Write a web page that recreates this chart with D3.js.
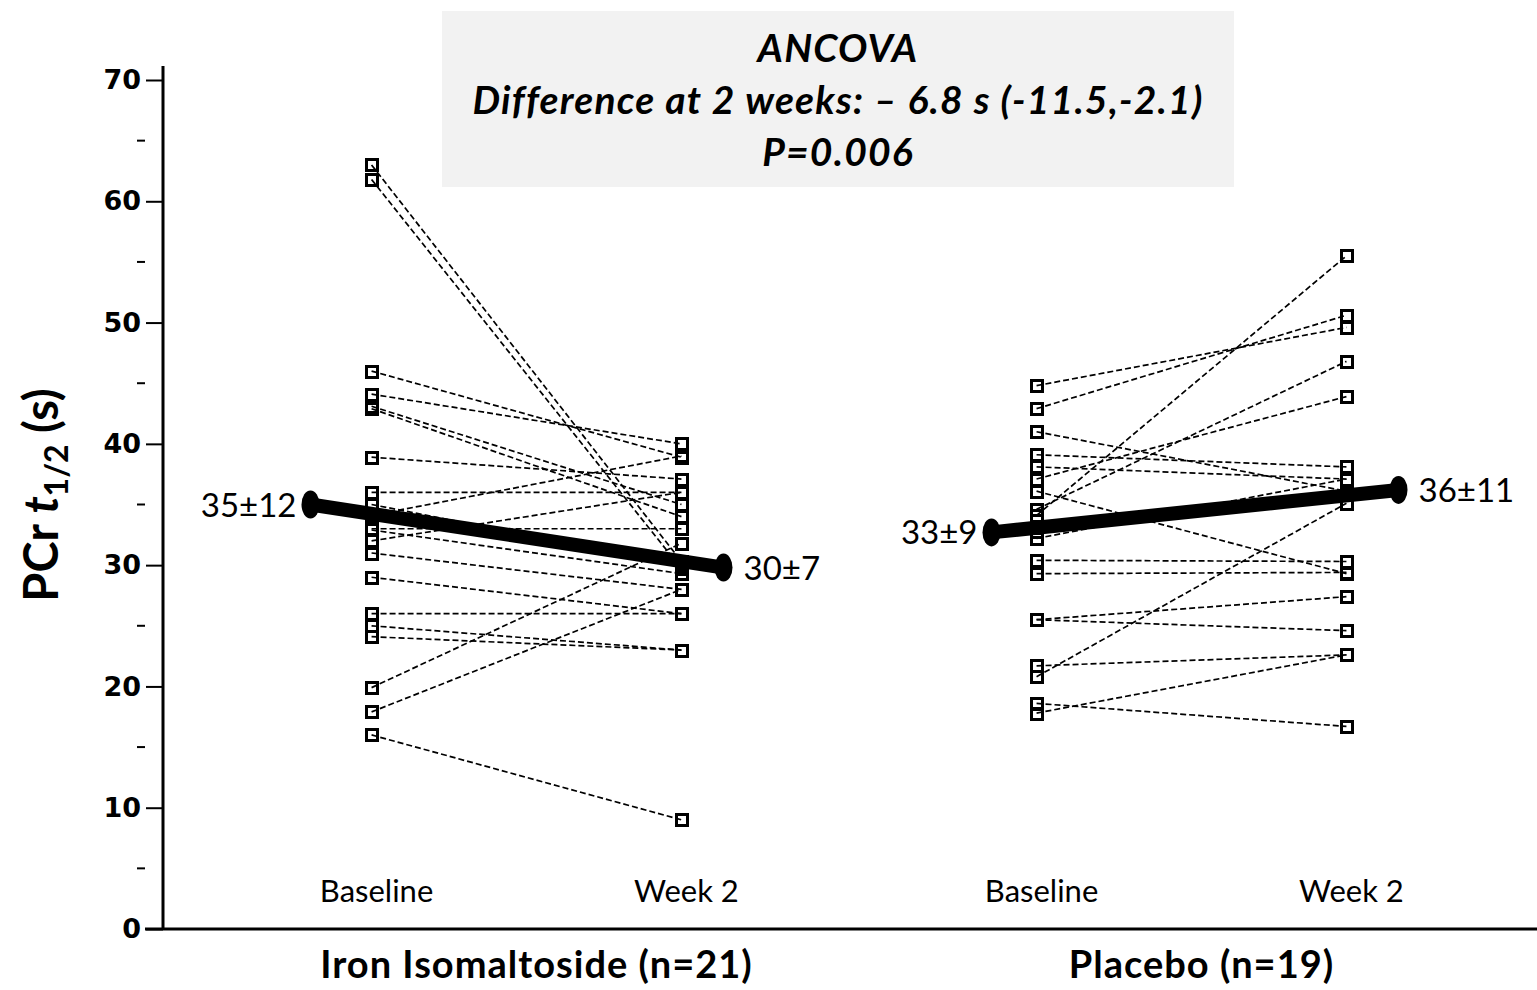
<!DOCTYPE html>
<html>
<head>
<meta charset="utf-8">
<script src="https://cdn.jsdelivr.net/npm/d3@7"></script>
<style>
  body { margin: 0; background: #fff; }
  svg { display: block; }
</style>
</head>
<body>
<div id="chart"></div>
<script>
// values (PCr half-time, seconds)
const groups = ["Iron Isomaltoside (n=21)", "Placebo (n=19)"];
const timepoints = ["Baseline", "Week 2"];

const ironBaseline = [63.0, 61.8, 46.0, 44.1, 43.1, 42.9, 38.9, 36.0, 34.1, 35.0, 33.0, 32.9, 32.0, 31.0, 29.0, 26.0, 25.0, 24.1, 19.9, 17.9, 16.0];
const ironWeek2    = [30.3, 29.7, 38.9, 40.0, 35.0, 34.0, 37.1, 36.0, 39.0, 30.0, 33.0, 29.3, 36.0, 28.0, 26.0, 26.0, 23.0, 23.0, 31.8, 28.0, 9.0];

const placeboBaseline = [44.8, 42.9, 41.0, 39.1, 38.1, 37.1, 36.1, 34.1, 34.6, 32.2, 32.8, 30.4, 29.3, 25.5, 25.5, 21.7, 20.8, 18.6, 17.8];
const placeboWeek2    = [49.6, 50.6, 36.1, 38.1, 37.1, 43.9, 29.3, 55.5, 46.8, 37.1, 35.8, 30.3, 29.4, 27.4, 24.6, 22.6, 35.1, 16.7, 22.6];

const meanValues = [[35.0, 29.8], [32.7, 36.2]];
const meanLabels = [["35±12", "30±7"], ["33±9", "36±11"]];

const yMajorTicks = [0, 10, 20, 30, 40, 50, 60, 70];
const yMinorTicks = [5, 15, 25, 35, 45, 55, 65];

const annotationLines = ["ANCOVA", "Difference at 2 weeks: \u2013 6.8 s (-11.5,-2.1)", "P=0.006"];

class PairedPlot {
  constructor(_config) {
    this.config = {
      parentElement: _config.parentElement,
      containerWidth: 1537,
      containerHeight: 990,
      axisX: 163,
      plotTop: 80,
      plotBottom: 929,
      groupRange: [194, 1524],
      pointPadding: 0.573,
      // where the thick mean line starts/ends, relative to the group centre
      meanEnds: [[-216, 197], [-200, 207]],
      squareSize: 11,
      font: "Lato, 'Open Sans', sans-serif"
    };
    this.series = [
      { baseline: ironBaseline, week2: ironWeek2 },
      { baseline: placeboBaseline, week2: placeboWeek2 }
    ];
    this.initVis();
  }

  initVis() {
    let vis = this;
    vis.svg = d3.select(vis.config.parentElement)
      .append("svg")
      .attr("width", vis.config.containerWidth)
      .attr("height", vis.config.containerHeight);

    vis.yScale = d3.scaleLinear()
      .domain([0, 70])
      .range([vis.config.plotBottom, vis.config.plotTop]);

    vis.groupScale = d3.scaleBand()
      .domain(groups)
      .range(vis.config.groupRange)
      .padding(0);

    vis.timeScale = d3.scalePoint()
      .domain(timepoints)
      .range([0, vis.groupScale.bandwidth()])
      .padding(vis.config.pointPadding);

    vis.drawAnnotation();
    vis.drawAxes();
    vis.updateVis();
  }

  drawAnnotation() {
    let vis = this;
    let g = vis.svg.append("g");
    g.append("rect")
      .attr("x", 442).attr("y", 11)
      .attr("width", 792).attr("height", 176)
      .attr("fill", "#f2f2f2");
    g.selectAll("text")
      .data(annotationLines)
      .join("text")
      .attr("x", 838)
      .attr("y", (d, i) => 62 + i * 52)
      .attr("text-anchor", "middle")
      .style("font-family", vis.config.font)
      .style("font-weight", "bold")
      .style("font-style", "italic")
      .style("font-size", "39px")
      .style("letter-spacing", "1.2px")
      .text(d => d);
  }

  drawAxes() {
    let vis = this;
    let axisG = vis.svg.append("g")
      .attr("transform", `translate(${vis.config.axisX},0)`);

    let yAxis = d3.axisLeft(vis.yScale)
      .tickValues(yMajorTicks)
      .tickSize(17)
      .tickPadding(5)
      .tickFormat(d3.format("d"));

    axisG.call(yAxis);
    axisG.select(".domain").remove();
    axisG.selectAll(".tick line").attr("stroke", "#000").attr("stroke-width", 2);
    axisG.selectAll(".tick text")
      .style("font-family", "'DejaVu Sans', sans-serif")
      .style("font-weight", "bold")
      .style("font-size", "27px")
      .attr("fill", "#000");

    // minor ticks are short detached dashes
    axisG.selectAll(".minor")
      .data(yMinorTicks)
      .join("line")
      .attr("class", "minor")
      .attr("x1", -26).attr("x2", -18)
      .attr("y1", d => vis.yScale(d)).attr("y2", d => vis.yScale(d))
      .attr("stroke", "#000").attr("stroke-width", 2);

    // axis lines
    vis.svg.append("line")
      .attr("x1", vis.config.axisX).attr("x2", vis.config.axisX)
      .attr("y1", 66).attr("y2", vis.config.plotBottom + 1)
      .attr("stroke", "#000").attr("stroke-width", 3);
    vis.svg.append("line")
      .attr("x1", vis.config.axisX - 18).attr("x2", vis.config.containerWidth)
      .attr("y1", vis.config.plotBottom).attr("y2", vis.config.plotBottom)
      .attr("stroke", "#000").attr("stroke-width", 3);

    // y title
    let title = vis.svg.append("text")
      .attr("transform", "translate(58,495) rotate(-90)")
      .attr("text-anchor", "middle")
      .style("font-family", vis.config.font)
      .style("font-weight", "bold")
      .style("font-size", "47px");
    title.append("tspan").text("PCr ");
    title.append("tspan").style("font-style", "italic").text("t");
    title.append("tspan").attr("dy", 10).style("font-size", "32px").text("1/2");
    title.append("tspan").attr("dy", -10).text(" (s)");

    // category and group labels
    groups.forEach(grp => {
      let x0 = vis.groupScale(grp);
      vis.svg.append("g").selectAll("text")
        .data(timepoints)
        .join("text")
        .attr("x", d => x0 + vis.timeScale(d) + 5)
        .attr("y", 902)
        .attr("text-anchor", "middle")
        .style("font-family", vis.config.font)
        .style("font-size", "31px")
        .text(d => d);
      vis.svg.append("text")
        .attr("x", x0 + vis.groupScale.bandwidth() / 2 + 10)
        .attr("y", 978)
        .attr("text-anchor", "middle")
        .style("font-family", vis.config.font)
        .style("font-weight", "bold")
        .style("font-size", "38px")
        .style("letter-spacing", "1px")
        .text(grp);
    });
  }

  updateVis() {
    let vis = this;
    let s = vis.config.squareSize;

    groups.forEach((grp, gi) => {
      let x0 = vis.groupScale(grp);
      let xb = x0 + vis.timeScale("Baseline");
      let xw = x0 + vis.timeScale("Week 2");
      let data = vis.series[gi];
      let pairs = data.baseline.map((b, i) => ({ b: b, w: data.week2[i] }));

      let g = vis.svg.append("g").attr("class", "group-" + gi);

      g.selectAll("line.subject")
        .data(pairs)
        .join("line")
        .attr("class", "subject")
        .attr("x1", xb).attr("x2", xw)
        .attr("y1", d => vis.yScale(d.b))
        .attr("y2", d => vis.yScale(d.w))
        .attr("stroke", "#000")
        .attr("stroke-width", 1.7)
        .attr("stroke-dasharray", "6,3");

      let pts = pairs.flatMap(d => [{ x: xb, v: d.b }, { x: xw, v: d.w }]);
      g.selectAll("rect.pt")
        .data(pts)
        .join("rect")
        .attr("class", "pt")
        .attr("x", d => Math.round(d.x - s / 2) + 0.5)
        .attr("y", d => Math.round(vis.yScale(d.v) - s / 2) + 0.5)
        .attr("width", s).attr("height", s)
        .attr("fill", "none")
        .attr("stroke", "#000")
        .attr("stroke-width", 3);

      // thick mean line with rounded ends
      let centre = x0 + vis.groupScale.bandwidth() / 2;
      let ends = vis.config.meanEnds[gi].map((off, i) => ({
        x: centre + off,
        y: vis.yScale(meanValues[gi][i]),
        label: meanLabels[gi][i],
        side: i
      }));

      g.append("line")
        .attr("x1", ends[0].x).attr("y1", ends[0].y)
        .attr("x2", ends[1].x).attr("y2", ends[1].y)
        .attr("stroke", "#000")
        .attr("stroke-width", 14);

      g.selectAll("ellipse")
        .data(ends)
        .join("ellipse")
        .attr("cx", d => d.x).attr("cy", d => d.y)
        .attr("rx", 9).attr("ry", 14)
        .attr("fill", "#000");

      g.selectAll("text.mean")
        .data(ends)
        .join("text")
        .attr("class", "mean")
        .attr("x", d => d.side === 0 ? d.x - 14 : d.x + 20)
        .attr("y", d => d.y + 12)
        .attr("text-anchor", d => d.side === 0 ? "end" : "start")
        .style("font-family", vis.config.font)
        .style("font-size", "33px")
        .text(d => d.label);
    });
  }
}

new PairedPlot({ parentElement: "#chart" });
</script>
</body>
</html>
